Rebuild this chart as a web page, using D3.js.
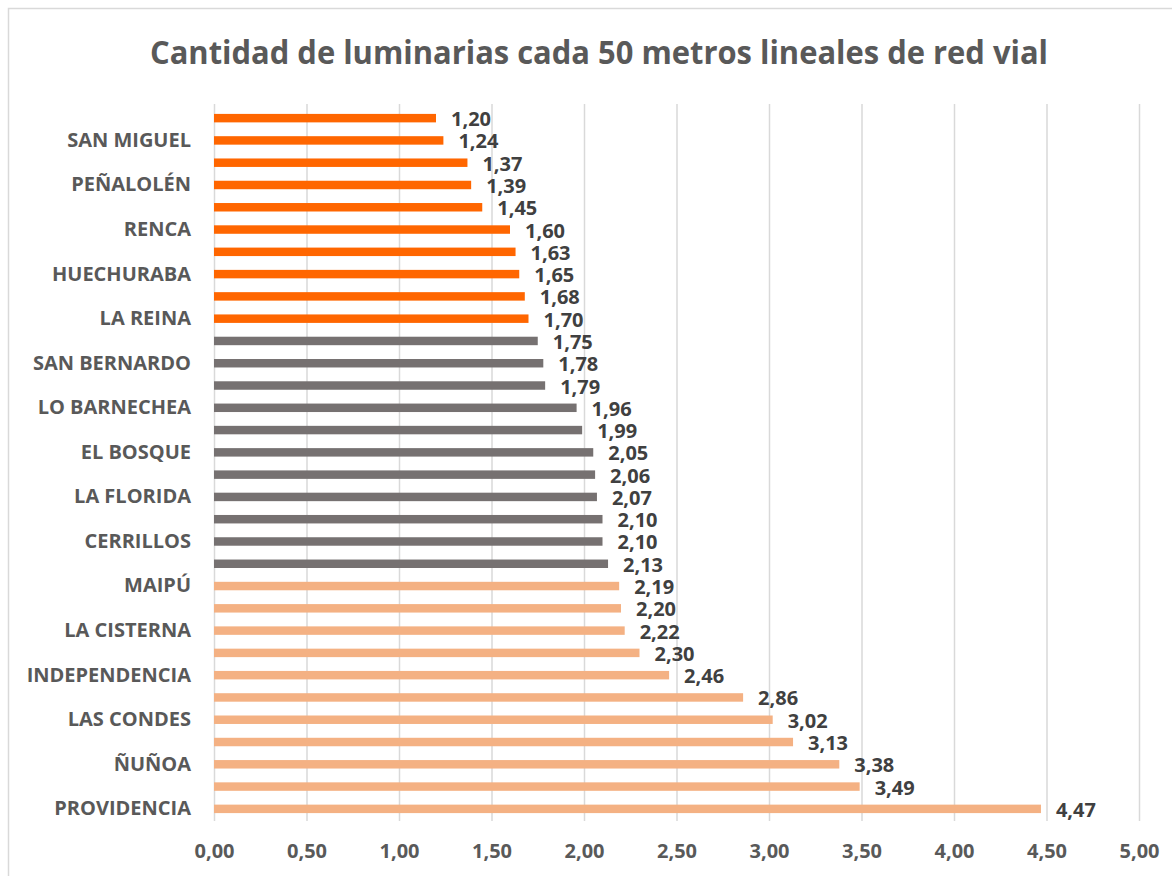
<!DOCTYPE html>
<html>
<head>
<meta charset="utf-8">
<script src="https://cdn.jsdelivr.net/npm/d3@7"></script>
<style>
  html, body { margin: 0; padding: 0; background: #fff; }
  svg text { font-family: "Open Sans", sans-serif; font-weight: bold; }
</style>
</head>
<body>
<div id="chart"></div>
<script>
// categories top to bottom; only every other one carries a visible label
const categories = [
    "", "SAN MIGUEL", "", "PEÑALOLÉN", "", "RENCA", "", "HUECHURABA", "", "LA REINA",
    "", "SAN BERNARDO", "", "LO BARNECHEA", "", "EL BOSQUE", "", "LA FLORIDA", "", "CERRILLOS",
    "", "MAIPÚ", "", "LA CISTERNA", "", "INDEPENDENCIA", "", "LAS CONDES", "", "ÑUÑOA",
    "", "PROVIDENCIA"
]
const values = [
    1.20, 1.24, 1.37, 1.39, 1.45, 1.60, 1.63, 1.65, 1.68, 1.70,
    1.75, 1.78, 1.79, 1.96, 1.99, 2.05, 2.06, 2.07, 2.10, 2.10, 2.13,
    2.19, 2.20, 2.22, 2.30, 2.46, 2.86, 3.02, 3.13, 3.38, 3.49, 4.47
]
// group of each bar (0 = low, 1 = mid, 2 = high)
const tiers = [
    0, 0, 0, 0, 0, 0, 0, 0, 0, 0,
    1, 1, 1, 1, 1, 1, 1, 1, 1, 1, 1,
    2, 2, 2, 2, 2, 2, 2, 2, 2, 2, 2
]
const xTicks = [0, 0.5, 1, 1.5, 2, 2.5, 3, 3.5, 4, 4.5, 5]
const title = "Cantidad de luminarias cada 50 metros lineales de red vial"

const tierColors = ["#FF6600", "#767171", "#F4B183"]

const W = 1172, H = 876
const margin = { top: 107, right: 33, bottom: 56, left: 214 }
const width = W - margin.left - margin.right,
      height = H - margin.top - margin.bottom

const fmt = d => d3.format(".2f")(d).replace(".", ",")

const svg = d3.select("#chart").append("svg")
    .attr("width", W)
    .attr("height", H)

// chart area border
svg.append("rect")
    .attr("x", 8.5).attr("y", 8.5)
    .attr("width", W + 10).attr("height", H + 10)
    .attr("fill", "#fff")
    .attr("stroke", "#d9d9d9")
    .attr("stroke-width", 1.5)

// title, squeezed to the reference width
svg.append("text")
    .attr("x", 599).attr("y", 64)
    .attr("text-anchor", "middle")
    .attr("font-size", 32)
    .attr("fill", "#595959")
    .attr("textLength", 898)
    .attr("lengthAdjust", "spacingAndGlyphs")
    .text(title)

const g = svg.append("g")
    .attr("transform", "translate(" + margin.left + "," + margin.top + ")")

const x = d3.scaleLinear()
    .domain([0, 5])
    .range([0, width])

const y = d3.scaleBand()
    .domain(d3.range(categories.length))
    .range([0, height])
    .paddingInner(0.62)
    .paddingOuter(0.31)

// vertical grid lines
g.append("g")
    .attr("class", "grid")
    .attr("transform", "translate(0," + (height + 1) + ")")
    .call(d3.axisBottom(x).tickValues(xTicks).tickSize(-(height + 4)).tickFormat(""))
    .call(g => {
        g.select(".domain").remove()
        g.selectAll(".tick line").attr("stroke", "#d9d9d9").attr("stroke-width", 1.5)
    })

// x-axis labels
g.append("g")
    .attr("transform", "translate(0," + height + ")")
    .call(d3.axisBottom(x).tickValues(xTicks).tickSize(0).tickPadding(24).tickFormat(fmt))
    .call(g => {
        g.select(".domain").remove()
        g.selectAll(".tick text")
            .attr("font-size", 20)
            .attr("font-family", "Open Sans, sans-serif")
            .attr("font-weight", "bold")
            .attr("fill", "#595959")
    })

// category labels
g.append("g")
    .call(d3.axisLeft(y).tickSize(0).tickPadding(23).tickFormat(i => categories[i]))
    .call(g => {
        g.select(".domain").remove()
        g.selectAll(".tick text")
            .attr("font-size", 20)
            .attr("font-family", "Open Sans, sans-serif")
            .attr("font-weight", "bold")
            .attr("fill", "#595959")
    })

// bars
g.selectAll(".bar")
    .data(values)
    .enter().append("rect")
    .attr("class", "bar")
    .attr("x", x(0))
    .attr("y", (d, i) => y(i))
    .attr("width", d => x(d) - x(0))
    .attr("height", y.bandwidth())
    .attr("fill", (d, i) => tierColors[tiers[i]])

// value labels
g.selectAll(".value")
    .data(values)
    .enter().append("text")
    .attr("class", "value")
    .attr("x", d => x(d) + 15)
    .attr("y", (d, i) => y(i) + y.bandwidth() / 2 + 1)
    .attr("dy", "0.35em")
    .attr("font-size", 20)
    .attr("fill", "#404040")
    .text(fmt)
</script>
</body>
</html>
